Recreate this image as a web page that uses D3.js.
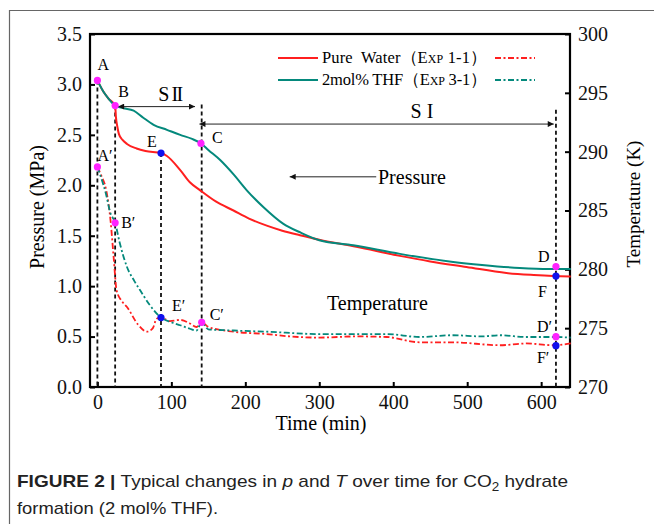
<!DOCTYPE html>
<html>
<head>
<meta charset="utf-8">
<script src="https://cdn.jsdelivr.net/npm/d3@7"></script>
<style>
	body { margin: 0; background: #fff; }
	svg { display: block; }
</style>
</head>
<body>
<svg width="654" height="524"></svg>
<script>
// @ Data
const timeTicks = [0, 100, 200, 300, 400, 500, 600];
const pressureTicks = [0, 0.5, 1, 1.5, 2, 2.5, 3, 3.5];
const tempTicks = [270, 275, 280, 285, 290, 295, 300];

// pressure, pure water (solid red)
const waterPTime = [0, 8, 15, 24, 25, 27, 29, 34, 40, 53, 65, 86, 94, 112, 125, 139, 160, 184, 205, 229, 250, 274, 300, 350, 409, 450, 499, 553, 590, 616, 640];
const waterP = [3.04, 2.93, 2.86, 2.79, 2.68, 2.58, 2.51, 2.45, 2.41, 2.365, 2.34, 2.32, 2.29, 2.15, 2.03, 1.95, 1.84, 1.75, 1.67, 1.6, 1.55, 1.505, 1.46, 1.39, 1.3, 1.245, 1.19, 1.13, 1.11, 1.1, 1.095];

// pressure, 2mol% THF (solid teal)
const thfPTime = [0, 8, 15, 24, 35, 49, 62, 76, 94, 112, 128, 140, 150, 166, 185, 202, 225, 251, 275, 300, 346, 409, 481, 520, 571, 610, 640];
const thfP = [3.04, 2.93, 2.86, 2.79, 2.765, 2.74, 2.67, 2.6, 2.55, 2.5, 2.46, 2.415, 2.35, 2.25, 2.1, 1.95, 1.78, 1.62, 1.53, 1.455, 1.405, 1.32, 1.24, 1.21, 1.18, 1.17, 1.17];

// temperature, pure water (dash-dot red)
const waterTTime = [0, 5, 12, 18, 22, 26, 33, 40, 55, 67, 75, 80, 86, 98, 112, 125, 134, 141, 150, 184, 229, 260, 300, 350, 391, 436, 480, 544, 580, 616, 640];
const waterT = [288.7, 288.0, 286.7, 284.0, 281.0, 278.2, 277.3, 276.8, 275.3, 274.7, 275.0, 275.8, 275.9, 275.6, 275.7, 275.4, 275.1, 275.5, 275.1, 274.7, 274.5, 274.3, 274.2, 274.3, 274.25, 273.8, 273.8, 273.55, 273.7, 273.55, 273.7];

// temperature, 2mol% THF (dash-dot teal)
const thfTTime = [0, 5, 12, 17, 24, 30, 40, 50, 58, 71, 86, 100, 112, 125, 134, 141, 150, 184, 229, 300, 350, 391, 436, 480, 520, 544, 580, 616, 640];
const thfT = [288.7, 287.8, 286.3, 284.9, 283.95, 282.3, 280.2, 279.0, 278.2, 276.95, 275.9, 275.5, 275.25, 274.95, 274.8, 275.5, 274.9, 274.8, 274.7, 274.5, 274.5, 274.5, 274.25, 274.4, 274.3, 274.4, 274.25, 274.25, 274.2];

// marked points
const pLabels = ["A", "B", "C", "D", "E", "F"];
const pTimes = [0, 24, 140, 620, 86, 620];
const pValues = [3.04, 2.79, 2.415, 1.194, 2.32, 1.1];
const tLabels = ["A′", "B′", "C′", "D′", "E′", "F′"];
const tTimes = [0, 24, 141, 620, 86, 620];
const tValues = [288.7, 283.95, 275.5, 274.28, 275.9, 273.51];

// dashed guide lines: time and top pressure
const guideTimes = [0, 24, 86, 141, 620];
const guideTops = [3.04, 2.79, 2.32, 2.8, 2.75];

const seriesNames = ["Pure  Water", "2mol% THF"];
const seriesExp = ["1-1", "3-1"];

async function drawChart() {
	const svg = d3.select("svg");
	const serif = "'Liberation Serif', 'Times New Roman', serif";
	const red = "#ff1f1f";
	const teal = "#04897c";
	const magenta = "#ff22ff";
	const blue = "#1010ee";

	// @ Frame around the figure
	svg
		.append("path")
		.attr("d", "M9.5,524 L9.5,10.5 L654,10.5")
		.attr("fill", "none")
		.attr("stroke", "#666")
		.attr("stroke-width", 1.2);

	// @ Scales
	const left = 90;
	const right = 570;
	const top = 34;
	const bottom = 387;
	const x = d3.scaleLinear().domain([-10, 639]).range([left, right]);
	const yP = d3.scaleLinear().domain([0, 3.5]).range([bottom, top]);
	const yT = d3.scaleLinear().domain([270, 300]).range([bottom, top]);

	// @ Axes
	const xAxis = svg
		.append("g")
		.attr("transform", `translate(0, ${bottom})`)
		.call(d3.axisBottom(x).tickValues(timeTicks).tickSize(-5).tickSizeOuter(0).tickPadding(8));
	const yAxis = svg
		.append("g")
		.attr("transform", `translate(${left}, 0)`)
		.call(
			d3
				.axisLeft(yP)
				.tickValues(pressureTicks)
				.tickFormat(d3.format(".1f"))
				.tickSize(-5)
				.tickSizeOuter(0)
				.tickPadding(8)
		);
	const tAxis = svg
		.append("g")
		.attr("transform", `translate(${right}, 0)`)
		.call(d3.axisRight(yT).tickValues(tempTicks).tickSize(-5).tickSizeOuter(0).tickPadding(8));

	[xAxis, yAxis, tAxis].forEach((g) => {
		g.select(".domain").remove();
		g.selectAll(".tick line").attr("stroke", "#000").attr("stroke-width", 2);
		g.selectAll(".tick text")
			.attr("fill", "#111")
			.style("font-family", serif)
			.style("font-size", "20px");
	});

	// box
	svg
		.append("rect")
		.attr("x", left)
		.attr("y", top)
		.attr("width", right - left)
		.attr("height", bottom - top)
		.attr("fill", "none")
		.attr("stroke", "#000")
		.attr("stroke-width", 2.2);

	// axis titles
	svg
		.append("text")
		.text("Time (min)")
		.attr("x", 321)
		.attr("y", 430)
		.attr("text-anchor", "middle")
		.style("font-family", serif)
		.style("font-size", "20px");
	svg
		.append("text")
		.text("Pressure (MPa)")
		.attr("transform", "translate(44, 207) rotate(-90)")
		.attr("text-anchor", "middle")
		.style("font-family", serif)
		.style("font-size", "20px");
	svg
		.append("text")
		.text("Temperature (K)")
		.attr("transform", "translate(640, 204) rotate(-90)")
		.attr("text-anchor", "middle")
		.style("font-family", serif)
		.style("font-size", "19px");

	// @ Arrow heads
	const defs = svg.append("defs");
	defs
		.append("marker")
		.attr("id", "head")
		.attr("viewBox", "0 0 10 10")
		.attr("refX", 10)
		.attr("refY", 5)
		.attr("markerWidth", 9)
		.attr("markerHeight", 6)
		.attr("markerUnits", "userSpaceOnUse")
		.attr("orient", "auto-start-reverse")
		.append("path")
		.attr("d", "M0,0 L10,5 L0,10 Z")
		.attr("fill", "#111");

	// @ Dashed guide lines
	svg
		.append("g")
		.selectAll("line")
		.data(guideTimes)
		.enter()
		.append("line")
		.attr("x1", (d) => x(d))
		.attr("x2", (d) => x(d))
		.attr("y1", (d, i) => yP(guideTops[i]))
		.attr("y2", bottom)
		.attr("stroke", "#111")
		.attr("stroke-width", 1.8)
		.attr("stroke-dasharray", "4,3");

	// @ Lines
	const line = (times, values, yScale) =>
		d3
			.line()
			.x((d, i) => x(times[i]))
			.y((d) => yScale(d))
			.curve(d3.curveMonotoneX)(values);

	const series = [
		{ d: line(waterTTime, waterT, yT), color: red, dash: "6,2.5,2,2.5", w: 1.8 },
		{ d: line(thfTTime, thfT, yT), color: teal, dash: "6,2.5,2,2.5", w: 1.8 },
		{ d: line(waterPTime, waterP, yP), color: red, dash: null, w: 2 },
		{ d: line(thfPTime, thfP, yP), color: teal, dash: null, w: 2 },
	];
	svg
		.append("g")
		.selectAll("path")
		.data(series)
		.enter()
		.append("path")
		.attr("d", (d) => d.d)
		.attr("fill", "none")
		.attr("stroke", (d) => d.color)
		.attr("stroke-width", (d) => d.w)
		.attr("stroke-dasharray", (d) => d.dash);

	// @ Annotation arrows
	const arrows = [
		{ x1: 28, x2: 132, y: 2.78, both: true },
		{ x1: 138, x2: 617, y: 2.607, both: true },
		{ x1: 260, x2: 377, y: 2.084, both: false },
	];
	svg
		.append("g")
		.selectAll("line")
		.data(arrows)
		.enter()
		.append("line")
		.attr("x1", (d) => x(d.x1))
		.attr("x2", (d) => x(d.x2))
		.attr("y1", (d) => yP(d.y))
		.attr("y2", (d) => yP(d.y))
		.attr("stroke", "#222")
		.attr("stroke-width", 1)
		.attr("marker-start", "url(#head)")
		.attr("marker-end", (d) => (d.both ? "url(#head)" : null));

	const notes = [
		{ text: "S II", x: 170, y: 101, size: 20, anchor: "middle", ls: -1.5 },
		{ text: "S I", x: 422, y: 118, size: 20, anchor: "middle", ls: 0 },
		{ text: "Pressure", x: 378, y: 184, size: 20, anchor: "start", ls: 0 },
		{ text: "Temperature", x: 327, y: 310, size: 20, anchor: "start", ls: 0 },
	];
	svg
		.append("g")
		.selectAll("text")
		.data(notes)
		.enter()
		.append("text")
		.text((d) => d.text)
		.attr("x", (d) => d.x)
		.attr("y", (d) => d.y)
		.attr("text-anchor", (d) => d.anchor)
		.style("letter-spacing", (d) => `${d.ls}px`)
		.style("white-space", "pre")
		.style("font-family", serif)
		.style("font-size", (d) => `${d.size}px`);

	// @ Marked points
	const labelShift = {
		A: [0, -10], B: [3, -9], C: [11, 0], D: [-18, -5], E: [-14, -6], F: [-18, 21],
		"A′": [0, -6], "B′": [6, 5], "C′": [8, -2], "D′": [-19, -5], "E′": [11, -7], "F′": [-19, 17],
	};
	const points = [];
	pLabels.forEach((l, i) => points.push({ label: l, cx: x(pTimes[i]), cy: yP(pValues[i]) }));
	tLabels.forEach((l, i) => points.push({ label: l, cx: x(tTimes[i]), cy: yT(tValues[i]) }));
	const isBlue = (l) => l[0] === "E" || l[0] === "F";

	svg
		.append("g")
		.selectAll("circle")
		.data(points)
		.enter()
		.append("circle")
		.attr("cx", (d) => d.cx)
		.attr("cy", (d) => d.cy)
		.attr("r", 3.6)
		.attr("fill", (d) => (isBlue(d.label) ? blue : magenta));

	svg
		.append("g")
		.selectAll("text")
		.data(points)
		.enter()
		.append("text")
		.text((d) => d.label)
		.attr("x", (d) => d.cx + labelShift[d.label][0])
		.attr("y", (d) => d.cy + labelShift[d.label][1])
		.style("font-family", serif)
		.style("font-size", "16px");

	// @ Legend
	const legend = svg
		.append("g")
		.selectAll("g")
		.data(seriesNames)
		.enter()
		.append("g")
		.attr("transform", (d, i) => `translate(0, ${58 + i * 22})`);
	legend
		.append("line")
		.attr("x1", 278)
		.attr("x2", 318)
		.attr("stroke", (d, i) => (i === 0 ? red : teal))
		.attr("stroke-width", 2);
	legend
		.append("line")
		.attr("x1", 495)
		.attr("x2", 535)
		.attr("stroke", (d, i) => (i === 0 ? red : teal))
		.attr("stroke-width", 1.8)
		.attr("stroke-dasharray", "6,2.5,2,2.5");
	const legendText = legend
		.append("text")
		.attr("x", 322)
		.attr("y", 5)
		.attr("textLength", 165)
		.attr("lengthAdjust", "spacing")
		.style("white-space", "pre")
		.style("font-family", serif)
		.style("font-size", "16.5px");
	legendText.append("tspan").text((d) => d);
	legendText.append("tspan").text("（");
	legendText.append("tspan").text("Exp").style("font-variant", "small-caps");
	legendText.append("tspan").text((d, i) => ` ${seriesExp[i]}`);
	legendText.append("tspan").text("）");

	// @ Caption
	const sans = "'Liberation Sans Narrow', 'Liberation Sans', Arial, sans-serif";
	const cap1 = svg
		.append("text")
		.attr("x", 17)
		.attr("y", 487)
		.attr("textLength", 551)
		.attr("lengthAdjust", "spacingAndGlyphs")
		.style("font-family", sans)
		.style("font-size", "17px")
		.attr("fill", "#222");
	cap1.append("tspan").text("FIGURE 2 | ").style("font-weight", "bold");
	cap1.append("tspan").text("Typical changes in ");
	cap1.append("tspan").text("p").style("font-style", "italic");
	cap1.append("tspan").text(" and ");
	cap1.append("tspan").text("T").style("font-style", "italic");
	cap1.append("tspan").text(" over time for CO");
	cap1.append("tspan").text("2").attr("dy", 4).style("font-size", "12px");
	cap1.append("tspan").text(" hydrate").attr("dy", -4);

	svg
		.append("text")
		.text("formation (2 mol% THF).")
		.attr("x", 17)
		.attr("y", 514)
		.attr("textLength", 201)
		.attr("lengthAdjust", "spacingAndGlyphs")
		.style("font-family", sans)
		.style("font-size", "17px")
		.attr("fill", "#222");
}

drawChart();
</script>
</body>
</html>
